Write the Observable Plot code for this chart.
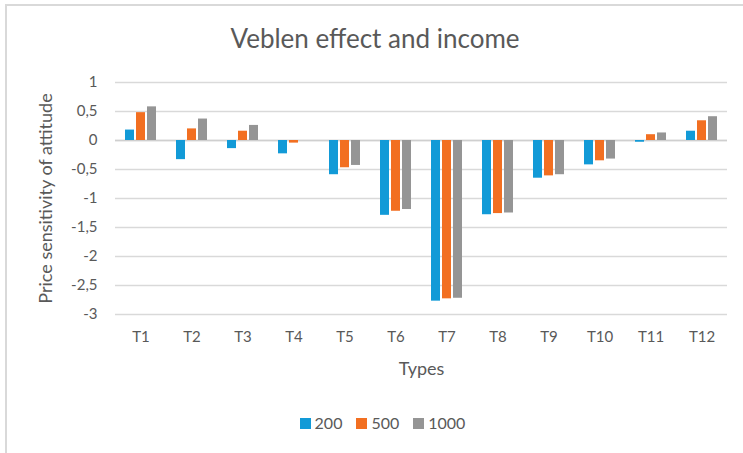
<!DOCTYPE html>
<html>
<head>
<meta charset="utf-8">
<script src="https://cdn.jsdelivr.net/npm/d3@7"></script>
<script src="https://cdn.jsdelivr.net/npm/@observablehq/plot@0.6"></script>
<style>
  body { margin: 0; background: #fff; }
  #wrap { position: relative; width: 743px; height: 453px; overflow: hidden; background: #fff; font-family: Lato, "Open Sans", sans-serif; color: #595959; }
  #border { position: absolute; left: 5px; top: 4px; width: 800px; height: 500px; border: 2px solid #d9d9d9; box-sizing: border-box; }
  #title { position: absolute; left: 5px; width: 740px; top: 22px; text-align: center; font-size: 26px; line-height: 32px; color: #595959; }
  #chart { position: absolute; left: 0; top: 0; }
  #legend { position: absolute; top: 413px; left: 0; width: 765px; display: flex; justify-content: center; gap: 14px; font-size: 16px; line-height: 20px; color: #595959; }
  .item { display: flex; align-items: center; gap: 4px; }
  .sw { width: 11px; height: 11px; display: inline-block; }
</style>
</head>
<body>
<div id="wrap">
  <div id="border"></div>
  <div id="title">Veblen effect and income</div>
  <div id="chart"></div>
  <div id="legend"></div>
</div>
<script>
const types = ["T1","T2","T3","T4","T5","T6","T7","T8","T9","T10","T11","T12"];
const series = ["200","500","1000"];
const v200 = [0.18,-0.33,-0.14,-0.23,-0.59,-1.29,-2.77,-1.28,-0.65,-0.42,-0.03,0.16];
const v500 = [0.48,0.20,0.16,-0.045,-0.47,-1.22,-2.73,-1.26,-0.61,-0.35,0.10,0.34];
const v1000 = [0.58,0.37,0.26,0.0,-0.43,-1.19,-2.72,-1.25,-0.59,-0.32,0.13,0.41];
const colors = ["#129ad7","#f26f21","#959595"];
const yTicks = [1,0.5,0,-0.5,-1,-1.5,-2,-2.5,-3];

const valuesBySeries = [v200, v500, v1000];
const data = [];
types.forEach((t, i) => series.forEach((s, j) => data.push({type: t, series: s, value: valuesBySeries[j][i]})));

const fmt = d => String(d).replace(".", ",");

const chart = Plot.plot({
  width: 743,
  height: 390,
  marginTop: 82,
  marginBottom: 76,
  marginLeft: 110,
  marginRight: 11,
  style: {fontFamily: "Lato, 'Open Sans', sans-serif", color: "#595959", background: "transparent", overflow: "visible"},
  fx: {domain: types, padding: 0},
  x: {domain: series, paddingInner: 0.15, paddingOuter: 0.85, axis: null},
  y: {domain: [-3, 1]},
  color: {domain: series, range: colors},
  marks: [
    Plot.gridY(yTicks, {stroke: "#d9d9d9", strokeOpacity: 1, strokeWidth: 1.3}),
    Plot.ruleY([0], {stroke: "#cfcfcf", strokeWidth: 1.5}),
    Plot.barY(data, {fx: "type", x: "series", y: "value", fill: "series"}),
    Plot.axisY(yTicks, {tickSize: 0, tickPadding: 18, tickFormat: fmt, fontSize: 15, fill: "#595959",
      label: "Price sensitivity of attitude", labelAnchor: "center", labelOffset: 76, labelArrow: "none"}),
    Plot.axisFx({anchor: "bottom", tickSize: 0, tickPadding: 17, fontSize: 15, fill: "#595959",
      label: "Types", labelAnchor: "center", labelOffset: 60, labelArrow: "none"})
  ]
});
chart.querySelectorAll("[aria-label='y-axis label'] text, [aria-label='fx-axis label'] text").forEach(t => t.setAttribute("font-size", "18"));
document.getElementById("chart").appendChild(chart);

const legend = document.getElementById("legend");
series.forEach((s, j) => {
  const item = document.createElement("div");
  item.className = "item";
  const sw = document.createElement("span");
  sw.className = "sw";
  sw.style.background = colors[j];
  const lab = document.createElement("span");
  lab.textContent = s;
  item.appendChild(sw);
  item.appendChild(lab);
  legend.appendChild(item);
});
</script>
</body>
</html>
